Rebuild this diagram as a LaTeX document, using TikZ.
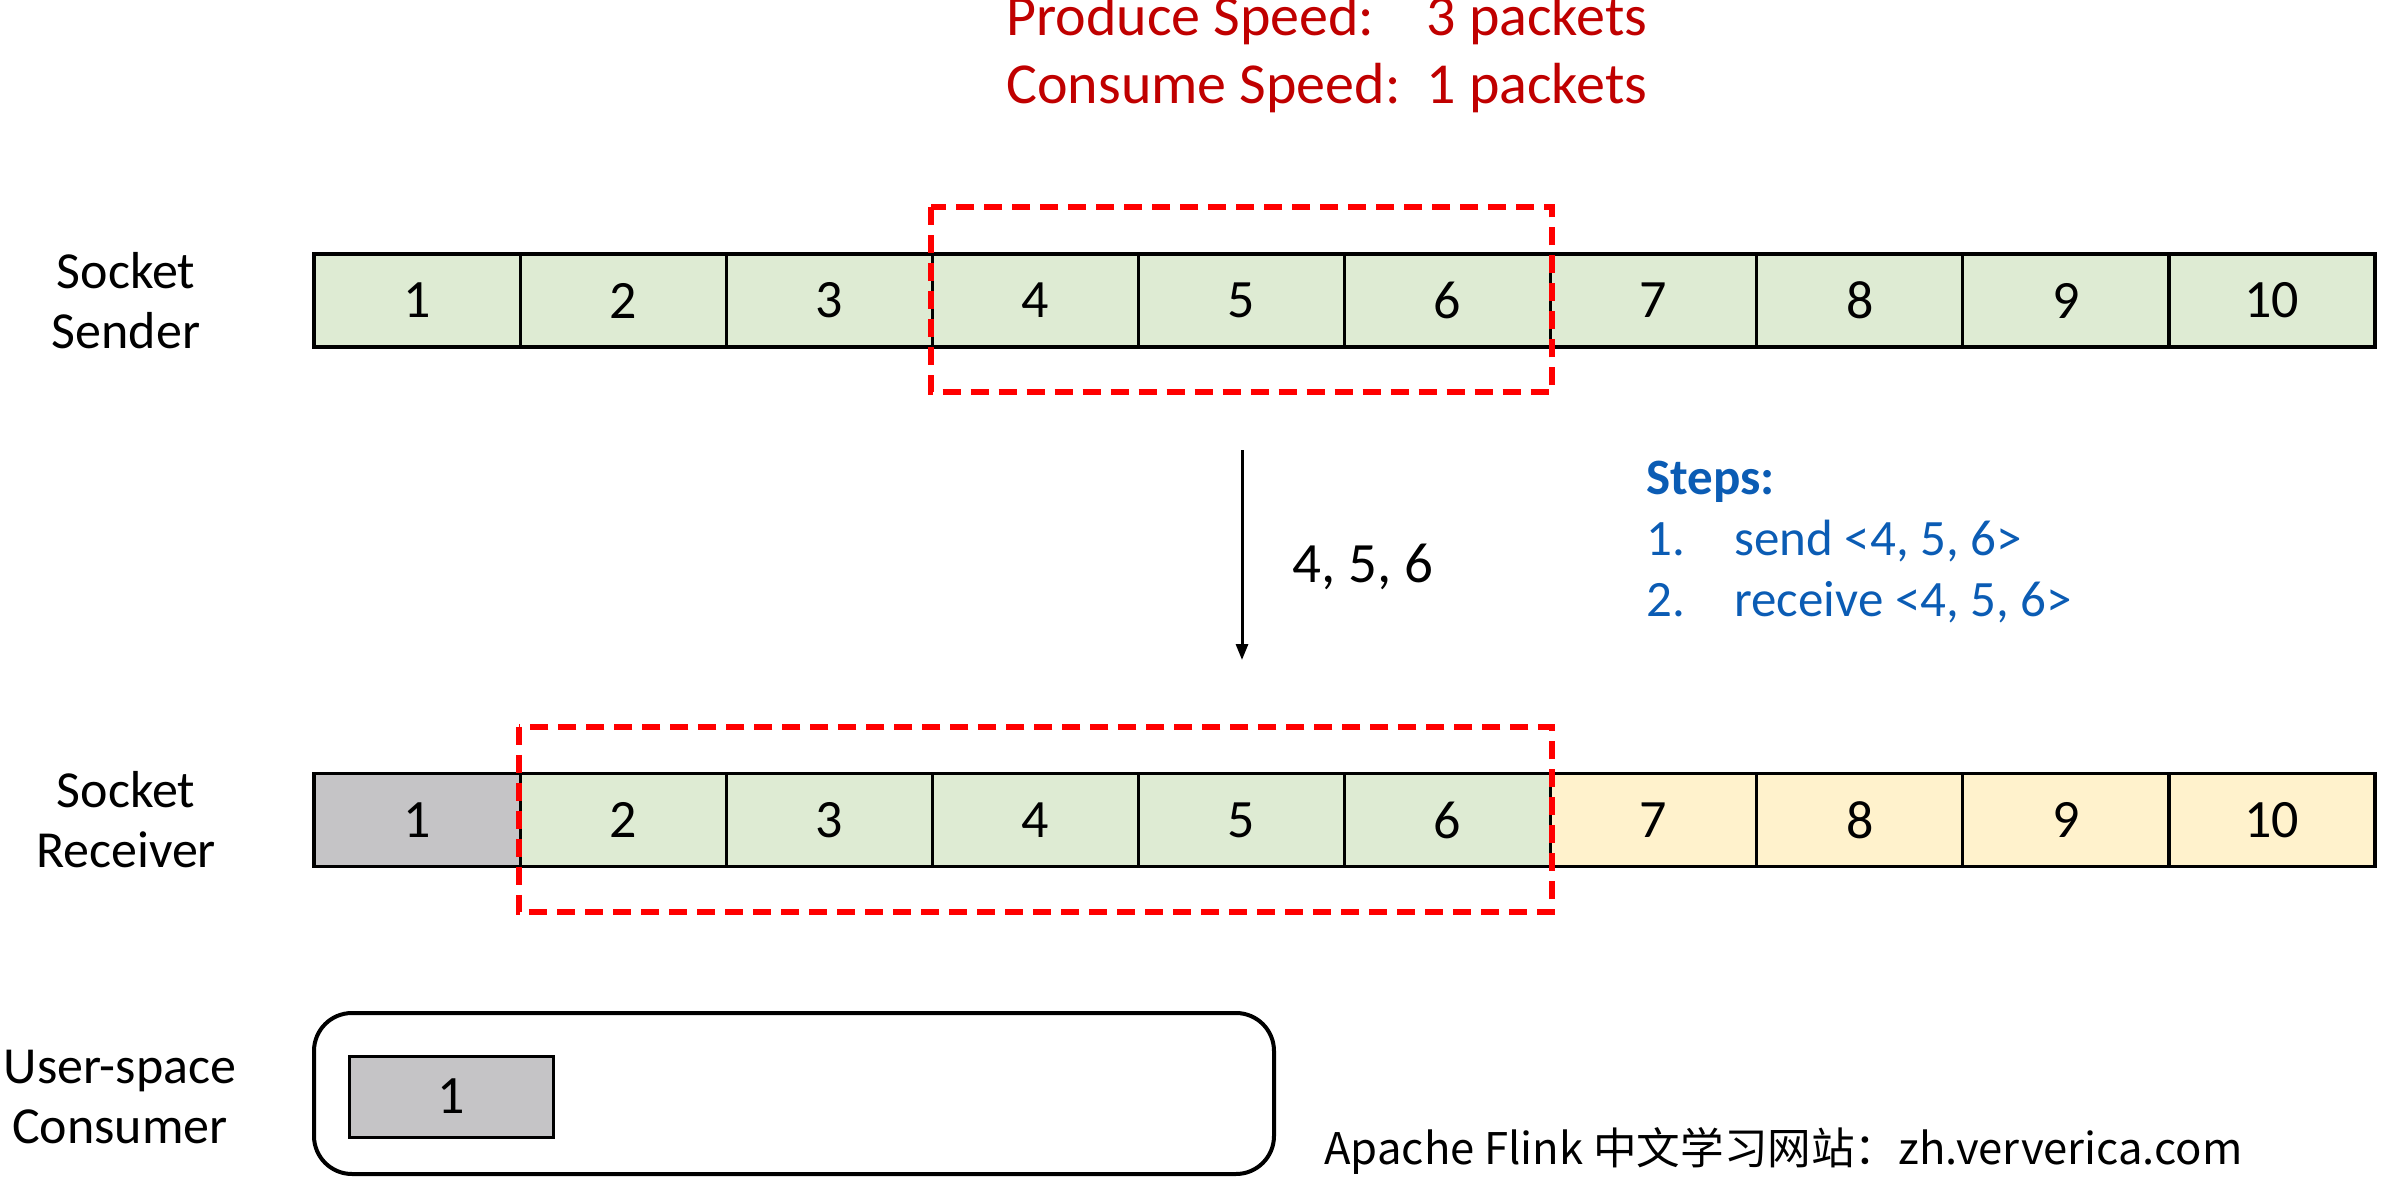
\documentclass[tikz,border=0pt]{standalone}
\usepackage{fontspec}
\setmainfont{Carlito}
\newfontfamily\cjk{Noto Sans CJK SC}
\usepackage{xcolor}
\usetikzlibrary{positioning,arrows.meta,calc}
\definecolor{grn}{HTML}{DEEBD3}
\definecolor{gry}{HTML}{C5C4C6}
\definecolor{ylw}{HTML}{FFF2CC}
\definecolor{drd}{HTML}{C00000}
\definecolor{blu}{HTML}{0B5CB4}
\tikzset{
  cell/.style={draw,line width=1.6pt,minimum width=103.05pt,minimum height=46.5pt,inner sep=0pt,font=\fontsize{27}{32}\selectfont},
  selbox/.style={draw=red,line width=3pt,dash pattern=on 9pt off 5pt},
  lbl/.style={align=center,font=\fontsize{26}{30}\selectfont,inner sep=0pt}
}

\begin{document}
\begin{tikzpicture}[x=0.5pt,y=-0.5pt]
  \useasboundingbox (0,0) rectangle (2390,1182);
  % sender and receiver rows
  \foreach \i in {1,...,10}{\node[cell,fill=grn] (s\i) at ({314+(\i-0.5)*206.1},300.5){\i};}
  \foreach \i/\c in {1/gry,2/grn,3/grn,4/grn,5/grn,6/grn,7/ylw,8/ylw,9/ylw,10/ylw}{\node[cell,fill=\c] (r\i) at ({314+(\i-0.5)*206.1},820){\i};}
  \draw[selbox] ([yshift=22.5pt]s4.north west) rectangle ([yshift=-21.5pt]s6.south east);
  \draw[selbox] ([yshift=22.5pt]r2.north west) rectangle ([yshift=-22pt]r6.south east);
  \node[lbl] (sendlbl) at (126,301){Socket\\Sender};
  \node[lbl] (recvlbl) at (126,820){Socket\\Receiver};
  \node[lbl] (conslbl) at (120,1097){User-space\\Consumer};
  % user-space consumer
  \node[draw,line width=2pt,rounded corners=19pt,minimum width=480pt,minimum height=80.5pt] (cons) at (794,1093.5){};
  \node[cell,fill=gry,line width=1.5pt,minimum width=102pt,minimum height=40.5pt] (c1) at (451,1096.5){1};
  % transfer arrow
  \coordinate (atop) at (1242,450);
  \coordinate (abot) at (1242,660);
  \draw[line width=1.5pt,-{Triangle[length=8pt,width=6pt]}] (atop) -- (abot);
  \node[lbl,anchor=west,font=\fontsize{28.5}{32}\selectfont] (pkts) at (1292,567){4, 5, 6};
  % speeds and steps
  \node[anchor=west,inner sep=0pt,text=drd,font=\fontsize{29}{34}\selectfont] (speed) at (1006,56)
    {\begin{tabular}{@{}l@{\hspace{13pt}}l@{}}Produce Speed: & 3 packets\\ Consume Speed: & 1 packets\end{tabular}};
  \node[anchor=west,inner sep=0pt,text=blu,font=\fontsize{25.5}{30.5}\selectfont] (steps) at (1646,543)
    {\begin{tabular}{@{}l@{\hspace{0pt}}l@{}}\multicolumn{2}{@{}l}{\bfseries Steps:}\\ \makebox[44pt][l]{1.} & send <4, 5, 6>\\ 2. & receive <4, 5, 6>\end{tabular}};
  \node[anchor=west,inner sep=0pt,font=\cjk\fontsize{21.8}{26}\selectfont] (site) at (1324,1151){Apache Flink 中文学习网站：zh.ververica.com};
\end{tikzpicture}
\end{document}
